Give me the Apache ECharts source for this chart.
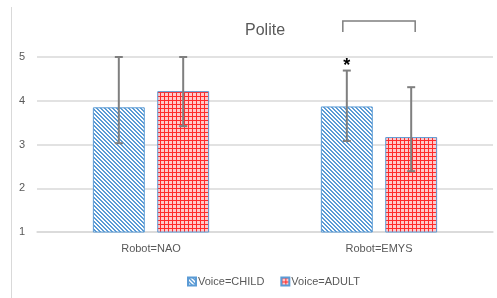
<!DOCTYPE html>
<html>
<head>
<meta charset="utf-8">
<script src="https://cdn.jsdelivr.net/npm/echarts@6/dist/echarts.min.js"></script>
<style>
  html, body { margin: 0; padding: 0; background: #fff; }
  #chart { width: 497px; height: 298px; }
</style>
</head>
<body>
<div id="chart"></div>
<script>
// data
const robots = ['Robot=NAO', 'Robot=EMYS'];
const voices = ['Voice=CHILD', 'Voice=ADULT'];
const childMeans = [3.85, 3.87];
const adultMeans = [4.22, 3.17];
// error bar ends (top gets clipped at the axis max)
const childLow = [3.03, 3.08];
const childHigh = [5.05, 4.69];
const adultLow = [3.42, 2.39];
const adultHigh = [5.02, 4.31];
const yTicks = [1, 2, 3, 4, 5];

const Y_MIN = 1, Y_MAX = 5;
const BAR_CAT_GAP = 0.49, BAR_GAP = 0.24;

// pattern tiles
function makeTile(draw) {
  const c = document.createElement('canvas');
  c.width = 4; c.height = 4;
  const ctx = c.getContext('2d');
  ctx.fillStyle = '#fff';
  ctx.fillRect(0, 0, 4, 4);
  draw(ctx);
  return c;
}
const hatchTile = makeTile(ctx => {
  ctx.fillStyle = '#5B9BD5';
  for (let y = 0; y < 4; y++) {
    for (let x = 0; x < 4; x++) {
      const d = ((x - y) % 4 + 4) % 4;
      if (d < 2) ctx.fillRect(x, y, 1, 1);
    }
  }
});
const gridTile = makeTile(ctx => {
  ctx.fillStyle = '#FFC9C9';
  ctx.fillRect(0, 0, 4, 4);
  ctx.fillStyle = '#FF2A2A';
  ctx.fillRect(0, 0, 4, 1);
  ctx.fillRect(0, 0, 1, 4);
});

// half distance between the two bar centres inside a category
function barOffset(band) {
  const w = band * (1 - BAR_CAT_GAP) / (2 + BAR_GAP);
  return (w + w * BAR_GAP) / 2;
}

function errorSeries(name, lows, highs, side, star) {
  return {
    type: 'custom',
    name: name + ' err',
    z: 5,
    clip: false,
    silent: true,
    data: lows.map((lo, i) => [i, lo, highs[i]]),
    renderItem: function (params, api) {
      const i = api.value(0);
      const band = api.size([1, 0])[0];
      const dx = side * barOffset(band);
      const lo = api.coord([i, api.value(1)]);
      const hi = api.coord([i, Math.min(api.value(2), Y_MAX)]);
      const x = lo[0] + dx;
      const cap = 4;
      const style = { stroke: '#7F7F7F', lineWidth: 2 };
      const children = [
        { type: 'line', shape: { x1: x, y1: lo[1], x2: x, y2: hi[1] }, style: style },
        { type: 'line', shape: { x1: x - cap, y1: lo[1], x2: x + cap, y2: lo[1] }, style: style },
        { type: 'line', shape: { x1: x - cap, y1: hi[1], x2: x + cap, y2: hi[1] }, style: style }
      ];
      if (star && star[i]) {
        children.push({
          type: 'text',
          style: {
            x: x, y: hi[1] - 5, text: '*', fill: '#000',
            font: 'bold 18px "Liberation Sans", sans-serif',
            align: 'center', verticalAlign: 'middle'
          }
        });
      }
      return { type: 'group', children: children };
    }
  };
}

const chart = echarts.init(document.getElementById('chart'));

const option = {
  animation: false,
  textStyle: { fontFamily: '"Liberation Sans", Arial, sans-serif' },
  title: {
    text: 'Polite',
    left: 240,
    top: 18,
    textStyle: { color: '#595959', fontSize: 16, fontWeight: 'normal' }
  },
  legend: {
    data: voices,
    left: 182,
    top: 271,
    itemWidth: 8,
    itemHeight: 8,
    itemGap: 16,
    icon: 'rect',
    textStyle: { color: '#595959', fontSize: 11, padding: [0, 0, 0, -3] }
  },
  grid: { left: 37, right: 4, top: 57, bottom: 66 },
  xAxis: {
    type: 'category',
    data: robots,
    axisLine: { lineStyle: { color: '#D9D9D9', width: 1.5 } },
    axisTick: { show: false },
    axisLabel: { color: '#595959', fontSize: 11, margin: 11 }
  },
  yAxis: {
    type: 'value',
    min: Y_MIN,
    max: Y_MAX,
    interval: 1,
    axisLine: { show: false },
    axisTick: { show: false },
    axisLabel: {
      color: '#595959', fontSize: 11, margin: 12,
      formatter: v => yTicks.includes(v) ? String(v) : ''
    },
    splitLine: { lineStyle: { color: '#D9D9D9', width: 1.5 } }
  },
  graphic: [
    // chart frame edge on the left
    { type: 'line', shape: { x1: 11.5, y1: 7, x2: 11.5, y2: 298 },
      style: { stroke: '#D9D9D9', lineWidth: 1 } }
  ],
  series: [
    {
      name: voices[0],
      type: 'bar',
      data: childMeans,
      barGap: (BAR_GAP * 100) + '%',
      barCategoryGap: (BAR_CAT_GAP * 100) + '%',
      itemStyle: {
        color: { image: hatchTile, repeat: 'repeat' },
        borderColor: '#5B9BD5',
        borderWidth: 1
      }
    },
    {
      name: voices[1],
      type: 'bar',
      data: adultMeans,
      itemStyle: {
        color: { image: gridTile, repeat: 'repeat' },
        borderColor: '#5B9BD5',
        borderWidth: 1
      }
    },
    errorSeries(voices[0], childLow, childHigh, -1, [false, true]),
    errorSeries(voices[1], adultLow, adultHigh, 1),
    {
      // significance bracket over the EMYS pair
      type: 'custom',
      name: 'bracket',
      clip: false,
      silent: true,
      z: 6,
      data: [[1]],
      renderItem: function (params, api) {
        const i = api.value(0);
        const band = api.size([1, 0])[0];
        const off = barOffset(band);
        const c = api.coord([i, Y_MAX]);
        const top = c[1] - 36, bot = c[1] - 25;
        const x1 = c[0] - off - 4, x2 = c[0] + off + 4;
        return {
          type: 'polyline',
          shape: { points: [[x1, bot], [x1, top], [x2, top], [x2, bot]] },
          style: { stroke: '#7F7F7F', lineWidth: 1.5, fill: null }
        };
      }
    }
  ]
};

chart.setOption(option);
</script>
</body>
</html>
